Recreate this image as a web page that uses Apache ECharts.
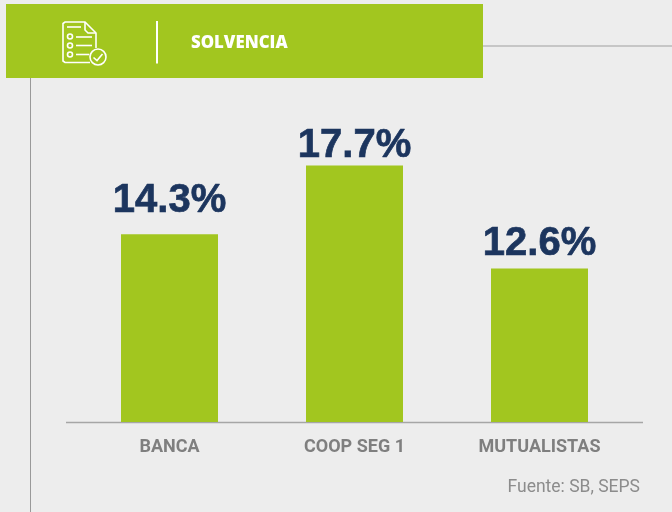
<!DOCTYPE html>
<html><head><meta charset="utf-8">
<style>html,body{margin:0;padding:0;background:#EDEDED}#c{width:672px;height:512px}</style>
<script src="https://cdn.jsdelivr.net/npm/echarts@6/dist/echarts.min.js"></script>
</head><body><div id="c"></div>
<script>
const categories = ['BANCA', 'COOP SEG 1', 'MUTUALISTAS'];
const solvencia = [14.3, 17.7, 12.6];
const title = 'SOLVENCIA';
const source = 'Fuente: SB, SEPS';
const labelGaps = [13, -1, 5];

const GREEN = '#A2C61F', NAVY = '#1C355E', GREY = '#A6A6A6';
const chart = echarts.init(document.getElementById('c'), null, {renderer: 'canvas'});
const w = {stroke: '#fff', lineWidth: 1.6, fill: null};
chart.setOption({
  animation: false,
  backgroundColor: '#EDEDED',
  grid: {left: 77, right: 40, top: 119, bottom: 90, containLabel: false},
  xAxis: {type: 'category', data: categories,
    axisLine: {show: false}, axisTick: {show: false},
    axisLabel: {color: '#7F7F7F', fontFamily: 'Roboto', fontWeight: 'bold', fontSize: 18, margin: 16}},
  yAxis: {type: 'value', min: 5, max: 20, show: false},
  series: [{
    type: 'bar', barWidth: 97, z: 3,
    itemStyle: {color: GREEN},
    data: solvencia.map((v, i) => ({value: v, label: {distance: labelGaps[i]}})),
    label: {show: true, position: 'top', formatter: p => p.value.toFixed(1) + '%',
      color: NAVY, fontFamily: 'Liberation Sans', fontWeight: 'bold', fontSize: 40, lineHeight: 40, verticalAlign: 'bottom',
      textBorderColor: NAVY, textBorderWidth: 0.7}
  }],
  graphic: [
    {type: 'line', z: 1, shape: {x1: 30.5, y1: 70, x2: 30.5, y2: 512}, style: {stroke: '#999999', lineWidth: 1}},
    {type: 'line', z: 1, shape: {x1: 470, y1: 46, x2: 672, y2: 46}, style: {stroke: '#A0A0A0', lineWidth: 1.2}},
    {type: 'line', z: 1, shape: {x1: 66, y1: 422.5, x2: 643, y2: 422.5}, style: {stroke: GREY, lineWidth: 1.4}},
    {type: 'rect', z: 5, shape: {x: 6, y: 4, width: 477, height: 74}, style: {fill: GREEN}},
    {type: 'line', z: 6, shape: {x1: 157, y1: 21, x2: 157, y2: 63.5}, style: {stroke: '#fff', lineWidth: 2}},
    {type: 'text', z: 6, x: 191, y: 43.5, style: {text: title, fill: '#fff', font: '800 16.8px "Open Sans"', textVerticalAlign: 'middle'}},
    {type: 'text', z: 6, x: 640, y: 488, style: {text: source, fill: '#8C8C8C', font: '17.5px Roboto', textAlign: 'right', textVerticalAlign: 'middle'}},
    {type: 'group', z: 6, children: [
      {type: 'polyline', z: 6, shape: {points: [[90,62.5],[65,62.5],[63,61],[63,23.5],[65,22],[85,22],[96,33],[96,48]]}, style: w},
      {type: 'polyline', z: 6, shape: {points: [[85,22],[85,30],[88,33],[96,33]]}, style: w},
      {type: 'line', z: 6, shape: {x1: 67, y1: 27, x2: 81, y2: 27}, style: w},
      {type: 'circle', z: 6, shape: {cx: 70, cy: 36.5, r: 2.5}, style: w},
      {type: 'circle', z: 6, shape: {cx: 70, cy: 45.5, r: 2.5}, style: w},
      {type: 'circle', z: 6, shape: {cx: 70, cy: 54.5, r: 2.5}, style: w},
      {type: 'line', z: 6, shape: {x1: 76, y1: 37, x2: 92, y2: 37}, style: w},
      {type: 'line', z: 6, shape: {x1: 76, y1: 45.5, x2: 92, y2: 45.5}, style: w},
      {type: 'line', z: 6, shape: {x1: 76, y1: 54.5, x2: 89, y2: 54.5}, style: w},
      {type: 'circle', z: 7, shape: {cx: 98, cy: 57, r: 8}, style: {stroke: '#fff', lineWidth: 1.6, fill: GREEN}},
      {type: 'polyline', z: 8, shape: {points: [[93.5,57.5],[97,60.5],[102.5,54]]}, style: w}
    ]}
  ]
});
</script></body></html>
